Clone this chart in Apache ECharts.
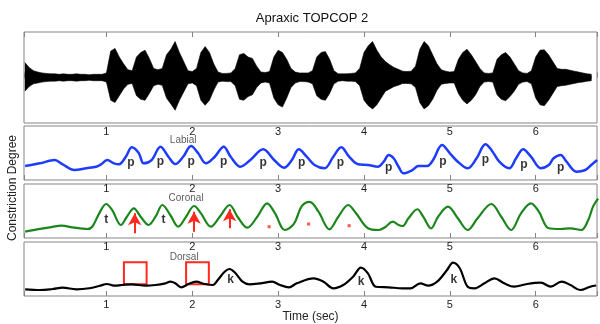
<!DOCTYPE html>
<html><head><meta charset="utf-8">
<script src="https://cdn.jsdelivr.net/npm/echarts@6/dist/echarts.min.js"></script>
<style>html,body{margin:0;padding:0;background:#fff}#c{width:600px;height:324px}</style>
</head><body><div id="c"></div>
<script>
// ---------------- data ----------------
const titleText = 'Apraxic TOPCOP 2';
const xTitle = 'Time (sec)';
const yTitle = 'Constriction Degree';
const panelNames = ['Labial', 'Coronal', 'Dorsal'];
const X_MIN = 0.04, X_MAX = 6.714;

// acoustic waveform envelope (sampled every 0.05 s from 0.05 s)
const WF_T0 = 0.05, WF_DT = 0.05;
const wfTop = [0.33,0.22,0.15,0.12,0.10,0.09,0.08,0.08,0.07,0.08,
 0.07,0.07,0.08,0.07,0.07,0.06,0.07,0.07,0.07,0.10,
 0.58,0.64,0.45,0.30,0.17,0.15,0.45,0.55,0.60,0.42,
 0.20,0.17,0.20,0.50,0.62,0.79,0.55,0.35,0.15,0.13,
 0.20,0.55,0.68,0.55,0.30,0.12,0.09,0.09,0.10,0.20,
 0.50,0.53,0.45,0.42,0.25,0.12,0.11,0.13,0.45,0.60,
 0.55,0.40,0.20,0.12,0.10,0.10,0.10,0.15,0.45,0.55,
 0.57,0.40,0.15,0.08,0.08,0.08,0.09,0.10,0.20,0.55,
 0.70,0.79,0.60,0.45,0.35,0.28,0.22,0.18,0.14,0.13,
 0.14,0.25,0.62,0.79,0.70,0.50,0.30,0.17,0.14,0.12,
 0.13,0.40,0.55,0.62,0.50,0.35,0.20,0.10,0.09,0.10,
 0.40,0.50,0.55,0.45,0.30,0.15,0.10,0.09,0.15,0.45,
 0.60,0.61,0.50,0.35,0.20,0.18,0.18,0.16,0.14,0.12,
 0.10,0.08,0.07];
const wfBot = [-0.30,-0.20,-0.14,-0.12,-0.10,-0.09,-0.08,-0.08,-0.07,-0.08,
 -0.07,-0.07,-0.08,-0.07,-0.07,-0.06,-0.07,-0.07,-0.07,-0.10,
 -0.50,-0.55,-0.40,-0.25,-0.15,-0.13,-0.40,-0.48,-0.50,-0.35,
 -0.18,-0.15,-0.17,-0.45,-0.58,-0.72,-0.50,-0.32,-0.14,-0.12,
 -0.18,-0.50,-0.61,-0.50,-0.28,-0.10,-0.08,-0.09,-0.09,-0.18,
 -0.48,-0.50,-0.42,-0.38,-0.22,-0.12,-0.10,-0.12,-0.45,-0.60,
 -0.65,-0.45,-0.22,-0.12,-0.09,-0.09,-0.10,-0.14,-0.40,-0.48,
 -0.50,-0.35,-0.14,-0.08,-0.07,-0.08,-0.08,-0.09,-0.18,-0.50,
 -0.62,-0.69,-0.60,-0.45,-0.30,-0.25,-0.20,-0.17,-0.13,-0.13,
 -0.14,-0.22,-0.55,-0.69,-0.62,-0.48,-0.28,-0.15,-0.13,-0.12,
 -0.12,-0.35,-0.50,-0.58,-0.50,-0.38,-0.20,-0.10,-0.09,-0.10,
 -0.38,-0.48,-0.51,-0.42,-0.30,-0.15,-0.10,-0.09,-0.14,-0.45,
 -0.60,-0.62,-0.50,-0.35,-0.20,-0.18,-0.17,-0.15,-0.13,-0.11,
 -0.10,-0.08,-0.07];

// Labial constriction
const labialT = [0.053,0.226,0.398,0.49,0.628,0.766,0.881,0.939,1.008,1.088,
 1.146,1.226,1.296,1.376,1.434,1.526,1.630,1.722,1.802,1.894,
 1.986,2.067,2.159,2.262,2.366,2.447,2.561,2.676,2.826,2.953,
 3.068,3.160,3.240,3.333,3.424,3.540,3.643,3.735,3.827,3.931,
 4.046,4.161,4.230,4.288,4.345,4.403,4.460,4.564,4.633,4.736,
 4.805,4.909,5.001,5.093,5.208,5.312,5.415,5.484,5.576,5.691,
 5.772,5.853,5.945,6.060,6.152,6.209,6.290,6.359,6.474,6.578,
 6.647,6.716];
const labialV = [2.59,3.09,3.70,2.90,1.85,2.17,2.46,2.91,3.70,3.09,
 2.91,4.31,6.06,5.00,3.09,3.70,6.17,4.31,2.94,4.31,
 6.30,5.00,3.09,4.31,6.17,4.31,2.46,3.70,5.69,3.70,
 2.28,3.70,5.69,4.31,2.78,2.17,4.31,6.06,4.31,2.91,
 2.78,2.46,3.39,4.63,4.02,2.46,1.24,1.85,2.59,2.59,
 3.70,6.48,4.94,3.39,2.17,4.02,6.61,5.56,3.39,2.17,
 4.02,5.69,4.31,2.17,2.78,4.02,4.63,3.39,1.54,1.85,
 2.78,3.70];

// Coronal constriction
const coronalT = [0.053,0.191,0.341,0.479,0.605,0.778,0.835,0.916,0.997,1.066,
 1.169,1.238,1.319,1.399,1.491,1.572,1.652,1.744,1.836,1.928,
 2.021,2.101,2.216,2.320,2.435,2.527,2.642,2.757,2.872,2.964,
 3.079,3.183,3.275,3.367,3.470,3.597,3.701,3.816,3.908,4.046,
 4.172,4.253,4.334,4.403,4.449,4.518,4.621,4.690,4.782,4.863,
 4.978,5.093,5.208,5.323,5.484,5.599,5.714,5.829,5.945,6.037,
 6.152,6.290,6.405,6.531,6.612,6.670,6.727];
const coronalV = [1.17,1.61,1.98,2.28,1.98,1.67,2.09,4.57,6.30,5.19,
 2.41,3.94,5.50,3.94,2.41,3.94,6.11,4.26,2.09,3.94,
 5.93,4.57,2.09,3.94,6.11,3.94,1.91,3.94,6.43,4.57,
 1.48,2.60,5.90,6.70,4.87,1.61,3.94,6.11,4.57,1.80,
 1.48,2.09,3.02,2.41,2.22,3.65,5.32,3.94,1.80,3.94,
 5.80,3.65,1.48,3.65,6.30,3.94,1.48,4.57,6.43,4.87,
 1.80,1.67,1.80,1.48,3.33,5.90,7.30];

// Dorsal constriction
const dorsalT = [0.053,0.226,0.375,0.490,0.651,0.801,0.916,1.008,1.088,1.181,
 1.296,1.457,1.572,1.687,1.744,1.802,1.871,1.951,2.044,2.147,
 2.239,2.297,2.377,2.435,2.504,2.585,2.665,2.792,2.930,3.022,
 3.125,3.217,3.413,3.528,3.643,3.758,3.873,3.965,4.046,4.138,
 4.288,4.449,4.541,4.656,4.748,4.852,4.967,5.036,5.116,5.208,
 5.289,5.404,5.519,5.634,5.749,5.899,6.060,6.175,6.301,6.405,
 6.520,6.635,6.704];
const dorsalV = [1.24,1.11,1.30,1.54,1.24,1.43,1.85,2.22,1.91,2.04,
 2.17,1.91,2.04,2.35,2.65,2.35,1.61,2.17,2.65,2.22,
 2.04,2.96,4.50,5.00,4.20,2.65,2.17,2.35,2.65,2.04,
 1.61,2.35,3.28,2.65,1.43,2.04,3.57,5.24,4.20,1.72,
 1.61,1.43,1.43,2.35,1.91,2.65,4.81,6.17,5.13,1.72,
 1.43,2.35,3.28,2.35,1.72,2.22,2.46,1.72,2.65,2.04,
 1.11,1.72,1.94];

// annotations (data coordinates)
const pT = [1.284,1.629,1.986,2.366,2.826,3.275,3.724,4.288,4.920,5.415,5.864,6.290];
const pV = [3.15,3.33,3.33,3.33,3.15,3.15,3.15,2.22,3.33,3.70,2.78,2.22];
const tT = [0.997,1.664];
const tV = [3.46,3.33];
const kT = [2.447,3.965,5.047];
const kV = [2.96,2.65,3.09];
const arrowT = [1.330,2.021,2.435];
const arrowFrom = [0.87,1.17,1.80];
const arrowTo = [4.57,4.87,5.32];
const dotT = [2.895,3.355,3.827];
const dotV = [2.09,2.59,2.28];
const boxT0 = [1.204,1.928];
const boxT1 = [1.468,2.193];
const boxVlo = [2.17,2.17];
const boxVhi = [6.24,6.24];
const nameT = [1.894,1.928,1.906];
const nameV = [7.28,7.41,7.22];

// ---------------- chart ----------------
const FONT = '"Liberation Sans", Arial, Helvetica, sans-serif';
const RED = '#ff2a1f';
const GRAYB = '#858585';
const chart = echarts.init(document.getElementById('c'), null, {renderer: 'canvas'});

const gridDefs = [[32, 91], [126, 54], [184, 54], [242, 54]];
const grid = gridDefs.map(g => ({left: 24, width: 580, top: g[0], height: g[1], show: true,
  borderColor: GRAYB, borderWidth: 1, backgroundColor: 'transparent'}));

function xAxis(gi, extra) {
  return Object.assign({
    type: 'value', gridIndex: gi, min: X_MIN, max: X_MAX, minInterval: 1, maxInterval: 1,
    axisLine: {show: false},
    axisTick: {show: true, inside: true, length: 5, lineStyle: {color: GRAYB, width: 1}},
    axisLabel: {show: true, margin: 3, fontSize: 11, color: '#222', fontFamily: FONT,
      formatter: v => Number.isInteger(v) ? String(v) : ''},
    splitLine: {show: false}
  }, extra || {});
}
const xAxes = [
  xAxis(0),
  xAxis(0, {position: 'top', axisLabel: {show: false}}),
  xAxis(1),
  xAxis(2),
  xAxis(3, {name: xTitle, nameLocation: 'middle', nameGap: 15,
    nameTextStyle: {fontSize: 12, color: '#222', fontFamily: FONT}})
];
function yAxis(gi, mn, mx) {
  return {type: 'value', gridIndex: gi, min: mn, max: mx, axisLine: {show: false},
    axisTick: {show: false}, axisLabel: {show: false}, splitLine: {show: false}};
}
const yAxes = [yAxis(0, -1, 1), yAxis(1, 0, 10), yAxis(2, 0, 10), yAxis(3, 0, 10)];

const zip = (a, b) => a.map((t, i) => [t, b[i]]);
const wfTimes = wfTop.map((_, i) => +(WF_T0 + i * WF_DT).toFixed(3));

function textScatter(xi, yi, T, V, txt, style) {
  return {type: 'scatter', xAxisIndex: xi, yAxisIndex: yi, symbolSize: 1, silent: true, z: 5,
    itemStyle: {color: 'rgba(255,255,255,0)'},
    data: T.map((t, i) => ({value: [t, V[i]], name: Array.isArray(txt) ? txt[i] : txt})),
    label: Object.assign({show: true, position: 'inside', formatter: p => p.name,
      fontFamily: FONT}, style)};
}

const series = [
  {type: 'line', xAxisIndex: 0, yAxisIndex: 0, data: zip(wfTimes, wfTop), symbol: 'none',
    lineStyle: {color: '#000', width: 0.6}, areaStyle: {color: '#000', opacity: 1, origin: -0.04}},
  {type: 'line', xAxisIndex: 0, yAxisIndex: 0, data: zip(wfTimes, wfBot), symbol: 'none',
    lineStyle: {color: '#000', width: 0.6}, areaStyle: {color: '#000', opacity: 1, origin: 0.04}},
  {type: 'line', xAxisIndex: 2, yAxisIndex: 1, data: zip(labialT, labialV), symbol: 'none',
    smooth: 0.35, lineStyle: {color: '#1e3cff', width: 2.5}},
  {type: 'line', xAxisIndex: 3, yAxisIndex: 2, data: zip(coronalT, coronalV), symbol: 'none',
    smooth: 0.35, lineStyle: {color: '#1b861b', width: 2.2},
    markLine: {silent: true, symbol: ['none', 'arrow'], symbolSize: [10, 12], animation: false,
      lineStyle: {color: RED, width: 2, type: 'solid'}, label: {show: false},
      data: arrowT.map((t, i) => [{coord: [t, arrowFrom[i]]}, {coord: [t, arrowTo[i]]}])}},
  {type: 'line', xAxisIndex: 4, yAxisIndex: 3, data: zip(dorsalT, dorsalV), symbol: 'none',
    smooth: 0.35, lineStyle: {color: '#000', width: 2.2},
    markArea: {silent: true, itemStyle: {color: 'rgba(0,0,0,0)', borderColor: RED, borderWidth: 2},
      data: boxT0.map((t, i) => [{coord: [t, boxVhi[i]]}, {coord: [boxT1[i], boxVlo[i]]}])}},
  textScatter(2, 1, pT, pV, 'p', {fontSize: 12, fontWeight: 'bold', color: '#000'}),
  textScatter(3, 2, tT, tV, 't', {fontSize: 12, fontWeight: 'bold', color: '#000'}),
  textScatter(4, 3, kT, kV, 'k', {fontSize: 12, fontWeight: 'bold', color: '#000'}),
  textScatter(2, 1, [nameT[0]], [nameV[0]], [panelNames[0]], {fontSize: 10, color: '#333'}),
  textScatter(3, 2, [nameT[1]], [nameV[1]], [panelNames[1]], {fontSize: 10, color: '#333'}),
  textScatter(4, 3, [nameT[2]], [nameV[2]], [panelNames[2]], {fontSize: 10, color: '#333'}),
  {type: 'scatter', xAxisIndex: 3, yAxisIndex: 2, symbol: 'rect', symbolSize: 3, silent: true,
    itemStyle: {color: RED}, data: zip(dotT, dotV)}
];

chart.setOption({
  animation: false,
  backgroundColor: '#fff',
  grid: grid,
  xAxis: xAxes,
  yAxis: yAxes,
  series: series,
  graphic: [
    {type: 'text', x: 312, y: 18, style: {text: titleText, fontSize: 13, fontFamily: FONT,
      fill: '#111', textAlign: 'center', textVerticalAlign: 'middle', align: 'center', verticalAlign: 'middle'}},
    {type: 'text', x: 13, y: 188, rotation: Math.PI / 2, style: {text: yTitle, fontSize: 12, fontFamily: FONT,
      fill: '#222', textAlign: 'center', textVerticalAlign: 'middle', align: 'center', verticalAlign: 'middle'}}
  ]
});
</script></body></html>
